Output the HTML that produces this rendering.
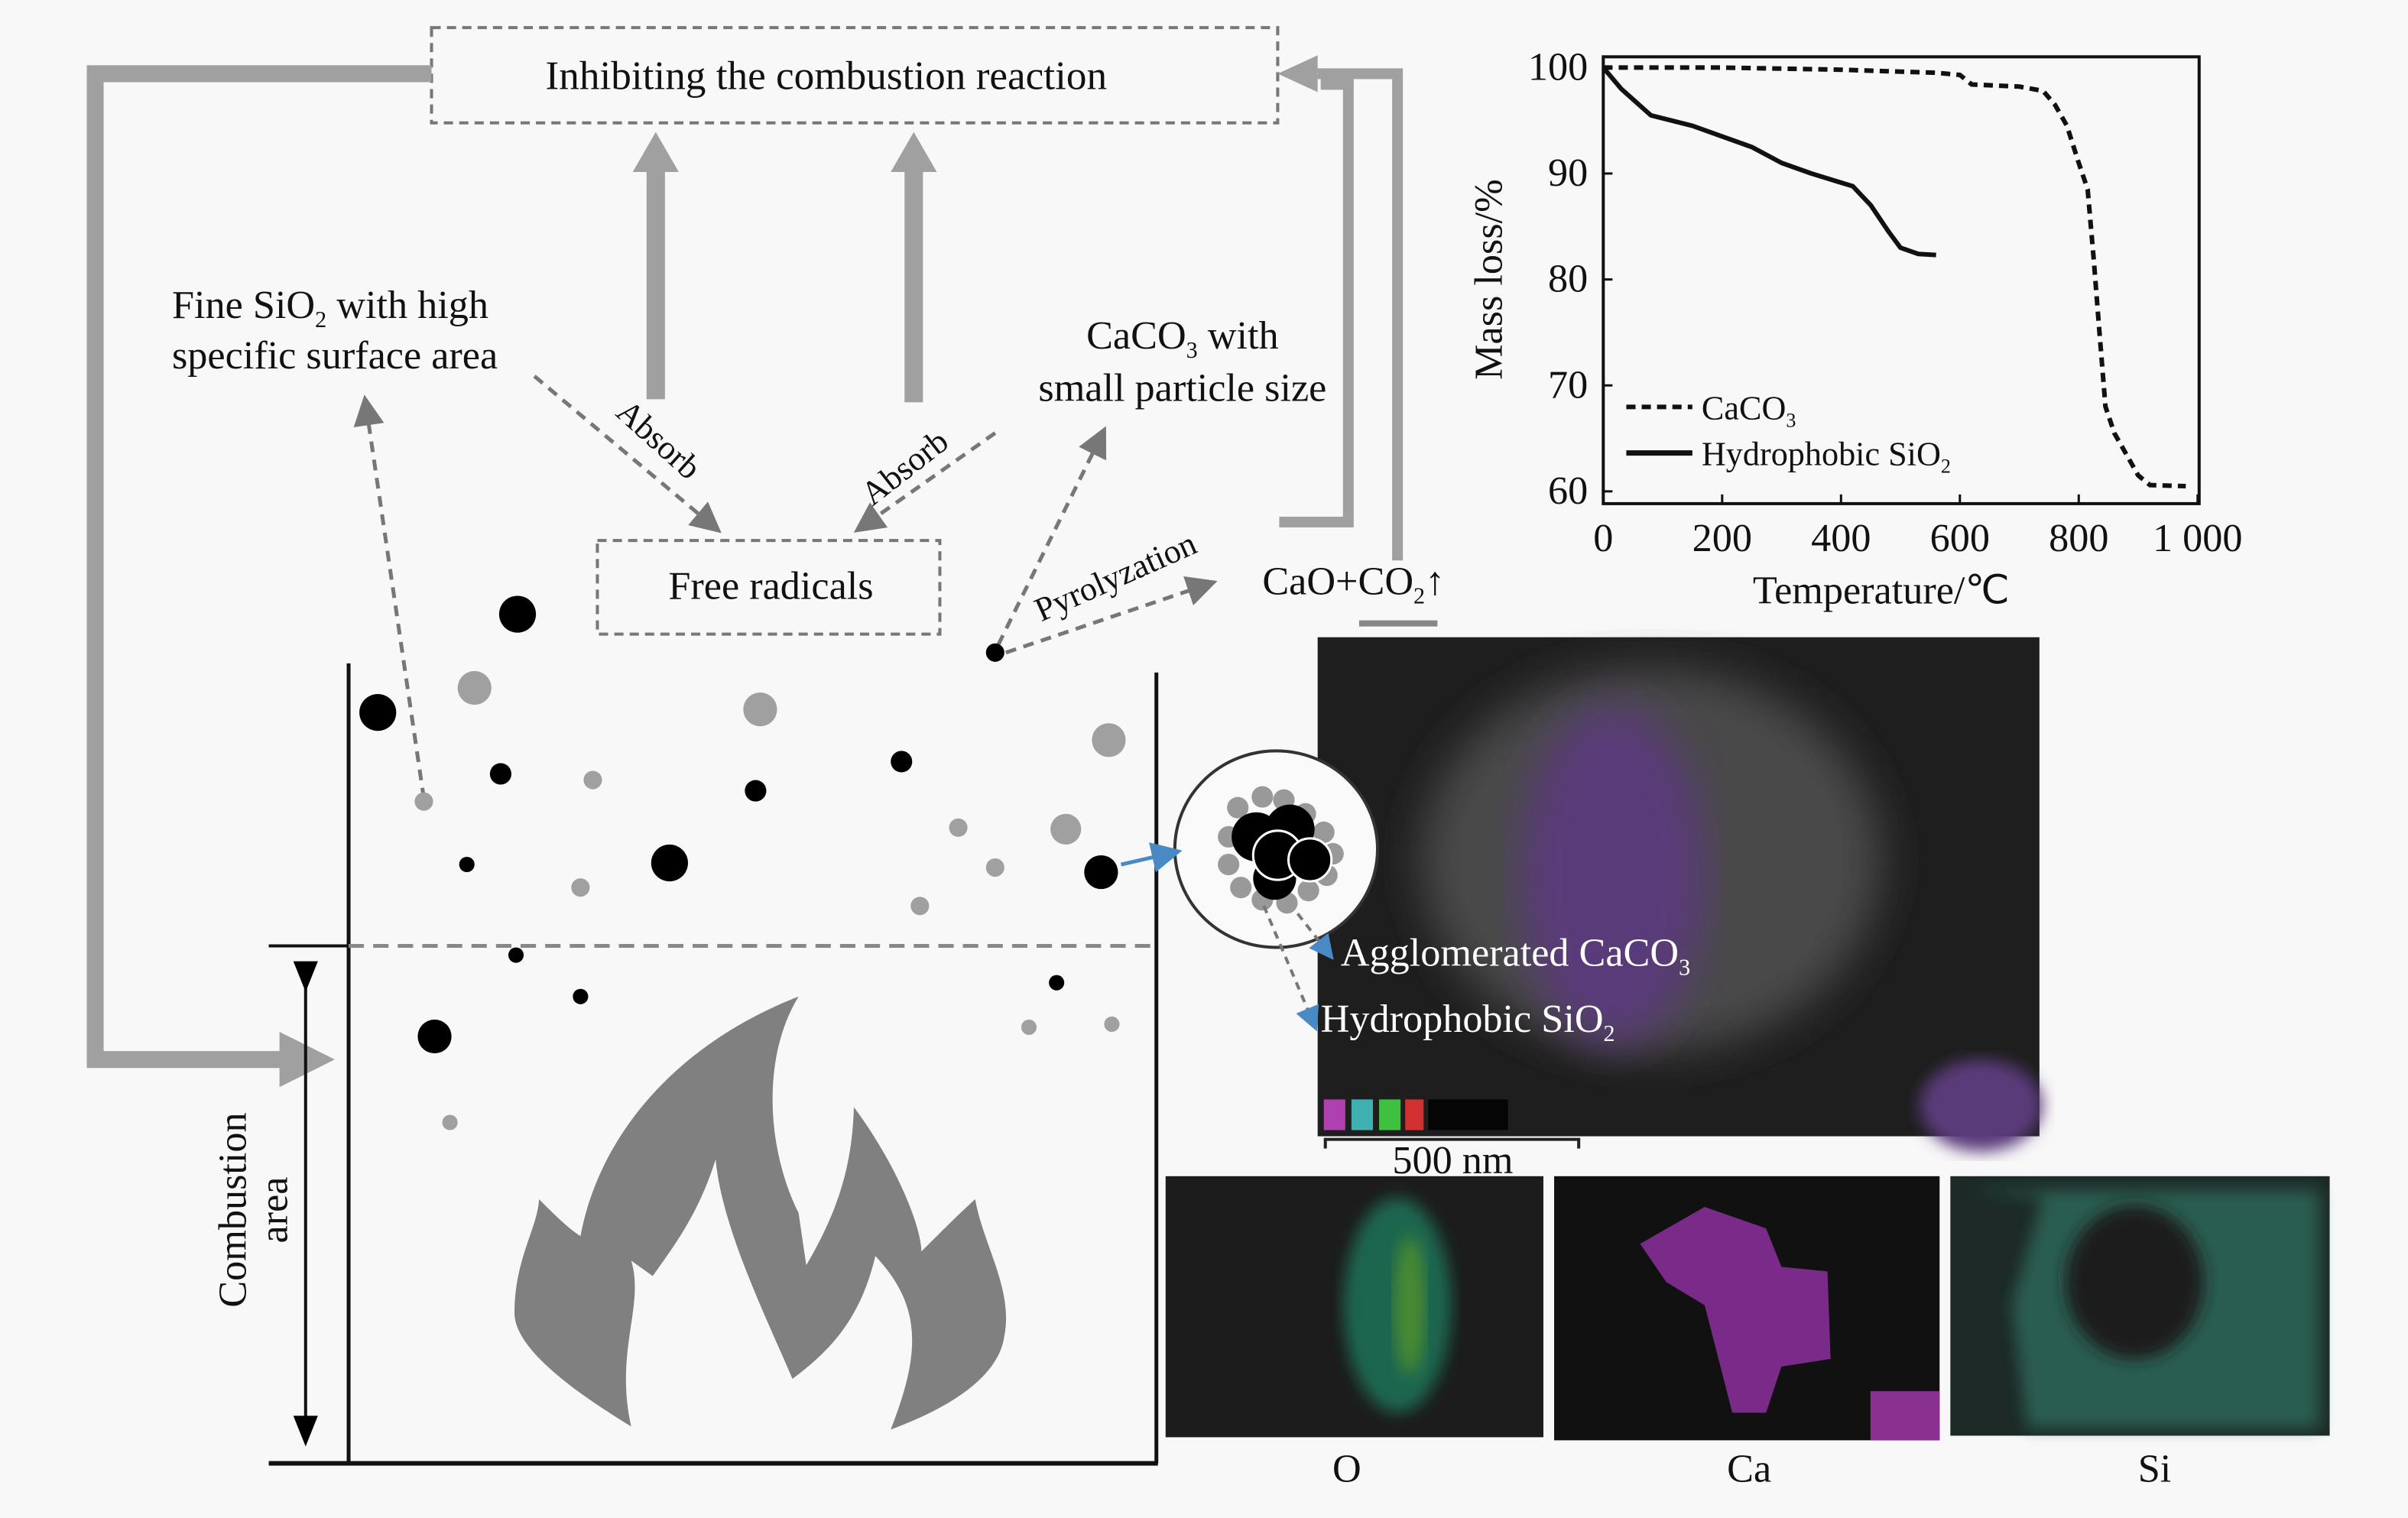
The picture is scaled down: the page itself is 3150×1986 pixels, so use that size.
<!DOCTYPE html>
<html><head><meta charset="utf-8"><style>
html,body{margin:0;padding:0;background:#f8f8f8;}
svg{display:block;font-family:"Liberation Serif",serif;}
</style></head><body>
<svg id="root" width="3150" height="1986" viewBox="0 0 1568 988.6" preserveAspectRatio="none" xmlns="http://www.w3.org/2000/svg">
<defs>
<filter id="blur6"><feGaussianBlur stdDeviation="5"/></filter>
<filter id="blur12"><feGaussianBlur stdDeviation="14"/></filter>
<marker id="ah" markerWidth="8" markerHeight="8" refX="6" refY="4" orient="auto"><path d="M0,0 L8,4 L0,8 Z" fill="#777"/></marker>
<marker id="ahb" markerWidth="8" markerHeight="8" refX="6" refY="4" orient="auto"><path d="M0,0 L8,4 L0,8 Z" fill="#4a8ac4"/></marker>
<marker id="ahk" markerWidth="10" markerHeight="10" refX="5" refY="5" orient="auto"><path d="M0,1 L10,5 L0,9 Z" fill="#000"/></marker>
</defs>
<rect width="1568" height="989" fill="#f8f8f8"/>

<rect x="281" y="18" width="551" height="62" fill="none" stroke="#777" stroke-width="2" stroke-dasharray="6,4"/>
<text x="538" y="58" font-size="26.5" text-anchor="middle" fill="#111">Inhibiting the combustion reaction</text>

<g fill="none" stroke="#a0a0a0" stroke-width="11">
<path d="M281,48 L62,48 L62,690 L190,690"/>
</g>
<path d="M182,672 L218,690 L182,708 Z" fill="#a0a0a0"/>
<g fill="none" stroke="#a0a0a0" stroke-width="7">
<path d="M833,340 L878,340 L878,55 L860,55"/>
<path d="M910,365 L910,48 L858,48"/>
</g>
<path d="M858,36 L832,48 L858,60 Z" fill="#a0a0a0"/>
<line x1="885" y1="406" x2="936" y2="406" stroke="#888" stroke-width="4"/>

<g fill="#a0a0a0">
<rect x="421" y="110" width="12" height="150"/><path d="M412,112 L427,86 L442,112 Z"/>
<rect x="589" y="110" width="12" height="152"/><path d="M580,112 L595,86 L610,112 Z"/>
</g>

<text font-size="26" fill="#111"><tspan x="112" y="207">Fine SiO<tspan font-size="15" dy="6">2</tspan><tspan dy="-6"> with high</tspan></tspan><tspan x="112" y="240">specific surface area</tspan></text>
<text font-size="26" fill="#111" text-anchor="middle"><tspan x="770" y="227">CaCO<tspan font-size="15" dy="6">3</tspan><tspan dy="-6"> with</tspan></tspan><tspan x="770" y="261">small particle size</tspan></text>
<text font-size="22" fill="#111" transform="translate(400,270) rotate(42)">Absorb</text>
<text font-size="22" fill="#111" transform="translate(568,330) rotate(-38)">Absorb</text>
<text font-size="22" fill="#111" transform="translate(678,405) rotate(-24)">Pyrolyzation</text>
<text font-size="26" fill="#111" x="822" y="387">CaO+CO<tspan font-size="15" dy="6">2</tspan><tspan dy="-6">↑</tspan></text>

<rect x="389" y="352" width="223" height="61" fill="none" stroke="#777" stroke-width="2" stroke-dasharray="6,4"/>
<text x="502" y="390" font-size="26" text-anchor="middle" fill="#111">Free radicals</text>

<g fill="none" stroke="#777" stroke-width="2.5" stroke-dasharray="7,5">
<path d="M276,520 L238,262" marker-end="url(#ah)"/>
<path d="M348,245 L466,344" marker-end="url(#ah)"/>
<path d="M648,282 L560,344" marker-end="url(#ah)"/>
<path d="M650,420 L718,282" marker-end="url(#ah)"/>
<path d="M655,425 L788,380" marker-end="url(#ah)"/>
</g>

<g stroke="#111" fill="none">
<line x1="227" y1="432" x2="227" y2="953" stroke-width="2.5"/>
<line x1="753" y1="438" x2="753" y2="953" stroke-width="2.5"/>
<line x1="175" y1="953" x2="754" y2="953" stroke-width="3"/>
<line x1="175" y1="616" x2="227" y2="616" stroke-width="2"/>
<line x1="227" y1="616" x2="753" y2="616" stroke="#888" stroke-width="2.5" stroke-dasharray="10,6"/>
<line x1="199" y1="636" x2="199" y2="932" stroke-width="2" marker-start="url(#ahk)" marker-end="url(#ahk)"/>
</g>
<text font-size="26" fill="#111" text-anchor="middle" transform="translate(160,788) rotate(-90)"><tspan x="0" y="0">Combustion</tspan><tspan x="0" y="27">area</tspan></text>

<path fill="#808080" d="M520,649 C495,690 500,750 520,790 L525,824 C545,790 555,760 556,721 C585,760 600,800 600,815 C615,800 625,790 635,781 C640,810 660,840 654,870 C650,900 610,920 580,931 C600,880 600,850 570,818 C560,860 540,880 516,898 C500,860 470,800 466,755 C455,790 440,810 425,831 L411,821 C420,850 400,880 411,929 C380,910 335,880 335,855 C335,820 350,800 351,781 C360,790 370,800 378,805 C390,740 440,680 520,649 Z"/>

<g id="dots"></g>

<g>
<rect x="858" y="415" width="470" height="325" fill="#1e1e1e"/>
<ellipse cx="1075" cy="560" rx="150" ry="125" fill="#4a4a4a" filter="url(#blur12)"/>
<ellipse cx="1050" cy="570" rx="60" ry="110" fill="#5a3a7a" filter="url(#blur12)"/>
<ellipse cx="1290" cy="720" rx="40" ry="30" fill="#5a3a7a" filter="url(#blur6)"/>
<rect x="862" y="716" width="14" height="20" fill="#b040b0"/><rect x="880" y="716" width="14" height="20" fill="#40b0b0"/><rect x="898" y="716" width="14" height="20" fill="#40c040"/><rect x="915" y="716" width="12" height="20" fill="#d03030"/><rect x="930" y="716" width="52" height="20" fill="#050505"/>
</g>

<g>
<ellipse cx="831" cy="553" rx="66" ry="64" fill="#fafafa" stroke="#333" stroke-width="2"/>
<g fill="#999">
<circle cx="806" cy="526" r="7"/><circle cx="822" cy="519" r="7"/><circle cx="836" cy="521" r="7"/><circle cx="850" cy="530" r="7"/><circle cx="862" cy="542" r="7"/><circle cx="868" cy="556" r="7"/><circle cx="864" cy="570" r="7"/><circle cx="852" cy="580" r="7"/><circle cx="838" cy="588" r="7"/><circle cx="822" cy="586" r="7"/><circle cx="808" cy="578" r="7"/><circle cx="800" cy="563" r="7"/><circle cx="800" cy="545" r="7"/>
</g>
<circle cx="818" cy="545" r="16" fill="#000"/><circle cx="840" cy="540" r="16" fill="#000"/><circle cx="830" cy="572" r="14" fill="#000"/>
<circle cx="832" cy="557" r="16" fill="#000" stroke="#fff" stroke-width="1.5"/>
<circle cx="853" cy="560" r="14" fill="#000" stroke="#fff" stroke-width="1.5"/>
</g>
<path d="M730,563 L765,555" stroke="#4a8ac4" stroke-width="2.5" fill="none" marker-end="url(#ahb)"/>
<path d="M845,595 L866,622" stroke="#777" stroke-width="2" stroke-dasharray="5,4" fill="none" marker-end="url(#ahb)"/>
<path d="M823,590 L856,668" stroke="#777" stroke-width="2" stroke-dasharray="5,4" fill="none" marker-end="url(#ahb)"/>

<text x="873" y="629" font-size="26" fill="#fff">Agglomerated CaCO<tspan font-size="15" dy="6">3</tspan></text>
<text x="860" y="672" font-size="26" fill="#fff">Hydrophobic SiO<tspan font-size="15" dy="6">2</tspan></text>
<path d="M863,748 L863,742 L1028,742 L1028,748" stroke="#222" stroke-width="2" fill="none"/>
<text x="946" y="764" font-size="26" text-anchor="middle" fill="#111">500 nm</text>

<g>
<rect x="759" y="766" width="246" height="170" fill="#1c1c1c"/>
<ellipse cx="910" cy="850" rx="35" ry="70" fill="#1f6650" filter="url(#blur6)"/>
<ellipse cx="918" cy="850" rx="10" ry="45" fill="#4a8a30" filter="url(#blur6)"/>
</g>
<g>
<rect x="1012" y="766" width="251" height="172" fill="#111"/>
<path d="M1068,810 L1110,786 L1150,800 L1160,825 L1190,828 L1192,885 L1160,890 L1150,920 L1128,920 L1110,850 L1085,835 Z" fill="#7a2a88"/>
<rect x="1218" y="906" width="45" height="32" fill="#8a3090"/>
</g>
<g>
<rect x="1270" y="766" width="247" height="169" fill="#1d2a27"/>
<path d="M1280,775 L1510,775 L1510,930 L1320,930 L1310,850 L1330,780 Z" fill="#2d6b5c" opacity="0.8" filter="url(#blur6)"/>
<ellipse cx="1390" cy="835" rx="45" ry="50" fill="#1b1b1b" filter="url(#blur6)"/>
</g>
<text x="877" y="965" font-size="26" text-anchor="middle" fill="#111">O</text>
<text x="1139" y="965" font-size="26" text-anchor="middle" fill="#111">Ca</text>
<text x="1403" y="965" font-size="26" text-anchor="middle" fill="#111">Si</text>

<g id="chart"></g>
</svg>
<script>
const NS="http://www.w3.org/2000/svg";
const xTicks=[0,200,400,600,800,1000];
const xTickLabels=["0","200","400","600","800","1 000"];
const yTicks=[60,70,80,90,100];
const caco3Temp=[0,200,400,560,600,620,700,740,760,780,800,815,825,835,845,860,880,900,920,980];
const caco3Mass=[100,100,99.8,99.5,99.3,98.4,98.2,97.8,96.5,94.5,91,88.5,82,75,68,65.5,63.5,61.5,60.6,60.5];
const sio2Temp=[0,30,80,150,250,300,350,420,450,480,500,530,560];
const sio2Mass=[100,98,95.5,94.5,92.5,91,90,88.8,87,84.5,83,82.4,82.3];
const dotsBlack=[[337,400,12],[246,464,12],[326,504,7],[492,515,7],[587,496,7],[436,562,12],[304,563,5],[717,568,11],[336,622,5],[378,649,5],[283,675,11],[688,640,5],[648,425,6]];
const dotsGray=[[309,448,11],[495,462,11],[722,482,11],[386,508,6],[276,522,6],[624,539,6],[694,540,10],[378,578,6],[648,565,6],[599,590,6],[670,669,5],[724,667,5],[293,731,5]];

function mk(t,a,p){const e=document.createElementNS(NS,t);for(const k in a)e.setAttribute(k,a[k]);p.appendChild(e);return e;}
const dg=document.getElementById('dots');
dotsBlack.forEach(d=>{const c=mk('circle',{cx:d[0],cy:d[1],r:d[2],fill:'#000'},dg);

});
dotsGray.forEach(d=>{const c=mk('circle',{cx:d[0],cy:d[1],r:d[2],fill:'#a0a0a0'},dg);

});

const g=document.getElementById('chart');
const X0=1044,X1=1431,Y100=44,Y60=320;
const sx=v=>X0+(v-0)/1000*(X1-X0);
const sy=v=>Y60-(v-60)/40*(Y60-Y100);
const box=mk('rect',{x:X0,y:37,width:1432-X0,height:291,fill:'none',stroke:'#111','stroke-width':2},g);


xTicks.forEach((t,i)=>{mk('line',{x1:sx(t),x2:sx(t),y1:328,y2:322,stroke:'#111','stroke-width':1.5},g);
const l=mk('text',{x:sx(t),y:359,'font-size':26,'text-anchor':'middle',fill:'#111'},g);l.textContent=xTickLabels[i];

});
yTicks.forEach(t=>{mk('line',{x1:X0,x2:X0+6,y1:sy(t),y2:sy(t),stroke:'#111','stroke-width':1.5},g);
const l=mk('text',{x:X0-10,y:sy(t)+8,'font-size':26,'text-anchor':'end',fill:'#111'},g);l.textContent=t;

});
const xt=mk('text',{x:1225,y:393,'font-size':26,'text-anchor':'middle',fill:'#111'},g);xt.textContent='Temperature/℃';


const yt=mk('text',{transform:'translate(978,182) rotate(-90)','font-size':26,'text-anchor':'middle',fill:'#111'},g);yt.textContent='Mass loss/%';


function line(xs,ys){return xs.map((x,i)=>(i?'L':'M')+sx(x).toFixed(1)+','+sy(ys[i]).toFixed(1)).join(' ');}
const p1=mk('path',{d:line(caco3Temp,caco3Mass),fill:'none',stroke:'#111','stroke-width':3,'stroke-dasharray':'6,4'},g);


const p2=mk('path',{d:line(sio2Temp,sio2Mass),fill:'none',stroke:'#111','stroke-width':3,'stroke-linejoin':'round'},g);


const lg1=mk('line',{x1:1059,x2:1102,y1:265,y2:265,stroke:'#111','stroke-width':3,'stroke-dasharray':'6,4'},g);


const lt1=mk('text',{x:1108,y:273,'font-size':22,fill:'#111'},g);lt1.innerHTML='CaCO<tspan font-size="13" dy="5">3</tspan>';


const lg2=mk('line',{x1:1059,x2:1102,y1:295,y2:295,stroke:'#111','stroke-width':3.5},g);


const lt2=mk('text',{x:1108,y:303,'font-size':22,fill:'#111'},g);lt2.innerHTML='Hydrophobic SiO<tspan font-size="13" dy="5">2</tspan>';


</script>
</body></html>
